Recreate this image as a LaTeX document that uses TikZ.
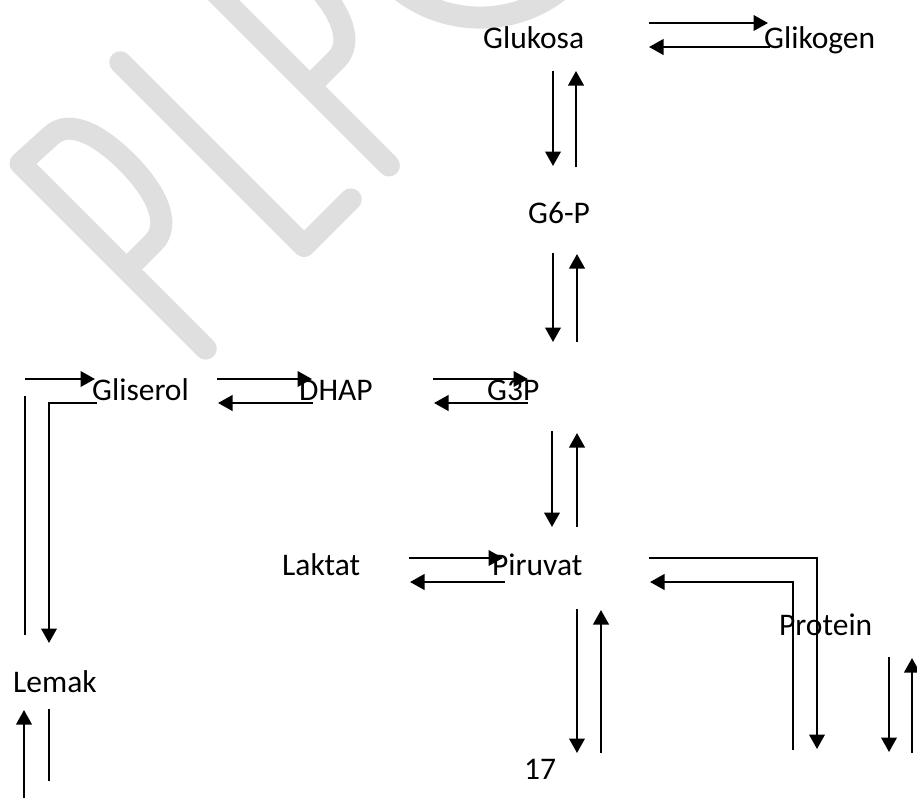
\documentclass[tikz,border=0pt]{standalone}
\usepackage{fontspec}
\setmainfont{Carlito}
\usetikzlibrary{arrows.meta}
\definecolor{wmgray}{RGB}{223,223,223}
\tikzset{
  lbl/.style={anchor=base west, inner sep=0pt, font=\fontsize{31.5}{37}\selectfont},
  flow/.style={line width=2.3pt, -{Triangle[length=14.5pt,width=15.5pt]}},
  plain/.style={line width=2.3pt},
  wm/.style={draw=wmgray, line width=22pt, line cap=round, line join=round},
}
% one watermark letter P, stem centred at u = #1
\newcommand\wmletterP[1]{%
  \draw[wm] (#1,-392) -- (#1,-130) -- ({#1+40},-132)
    .. controls ({#1+66},-132) and ({#1+76},-165) .. ({#1+76},-205)
    .. controls ({#1+76},-250) and ({#1+62},-280) .. ({#1+38},-280) -- (#1,-280);}
\begin{document}
\begin{tikzpicture}[x=1pt,y=1pt]
\useasboundingbox (0,0) rectangle (917,-798);
\clip (0,0) rectangle (917,-798);
\fill[white] (0,0) rectangle (917,-798);

% diagonal watermark
\begin{scope}[rotate=45]
  \wmletterP{-101}
  \draw[wm] (41,-129) -- (41,-389) -- (107,-389);
  \wmletterP{158}
  \draw[wm] (419,-260) circle[radius=130];
\end{scope}

% metabolites
\node[lbl] (glukosa)  at (483,-48)  {Glukosa};
\node[lbl] (glikogen) at (764,-48)  {Glikogen};
\node[lbl] (g6p)      at (528,-223) {G6-P};
\node[lbl] (gliserol) at (92,-400)  {Gliserol};
\node[lbl] (dhap)     at (299,-400) {DHAP};
\node[lbl] (g3p)      at (487,-400) {G3P};
\node[lbl] (laktat)   at (282,-575) {Laktat};
\node[lbl] (piruvat)  at (492,-575) {Piruvat};
\node[lbl] (protein)  at (779,-635) {Protein};
\node[lbl] (lemak)    at (13,-692)  {Lemak};
\node[lbl] (page)     at (524,-779) {17};

% arrow end points
\coordinate (gg1s) at (649,-23);  \coordinate (gg1e) at (768,-23);
\coordinate (gg2s) at (770,-47);  \coordinate (gg2e) at (649,-47);
\coordinate (v1a) at (553,-71);   \coordinate (v1b) at (553,-166);
\coordinate (v1c) at (576,-167);  \coordinate (v1d) at (576,-71);
\coordinate (v2a) at (553,-253);  \coordinate (v2b) at (553,-342);
\coordinate (v2c) at (577,-342);  \coordinate (v2d) at (577,-254);
\coordinate (v3a) at (552,-431);  \coordinate (v3b) at (552,-527);
\coordinate (v3c) at (577,-527);  \coordinate (v3d) at (577,-433);
\coordinate (v4a) at (577,-609);  \coordinate (v4b) at (577,-753);
\coordinate (v4c) at (601,-753);  \coordinate (v4d) at (601,-610);
\coordinate (v5a) at (889,-657);  \coordinate (v5b) at (889,-752);
\coordinate (v5c) at (912,-753);  \coordinate (v5d) at (912,-658);
\coordinate (v6a) at (24,-798);   \coordinate (v6b) at (24,-710);
\coordinate (v6c) at (49,-709);   \coordinate (v6d) at (49,-781);
\coordinate (gl0s) at (25,-379);  \coordinate (gl0e) at (95,-379);
\coordinate (gl1s) at (97,-403);  \coordinate (gl1k) at (49,-403);
\coordinate (gl1e) at (49,-643);
\coordinate (gl2s) at (25,-396);  \coordinate (gl2e) at (25,-635);
\coordinate (gd1s) at (217,-379); \coordinate (gd1e) at (312,-379);
\coordinate (gd2s) at (313,-403); \coordinate (gd2e) at (218,-403);
\coordinate (dg1s) at (433,-379); \coordinate (dg1e) at (528,-379);
\coordinate (dg2s) at (528,-403); \coordinate (dg2e) at (434,-403);
\coordinate (lp1s) at (409,-558); \coordinate (lp1e) at (503,-558);
\coordinate (lp2s) at (505,-582); \coordinate (lp2e) at (410,-582);
\coordinate (pp1s) at (649,-558); \coordinate (pp1k) at (817,-558);
\coordinate (pp1e) at (817,-749);
\coordinate (pp2s) at (793,-750); \coordinate (pp2k) at (793,-582);
\coordinate (pp2e) at (650,-582);

% Glukosa <-> Glikogen
\draw[flow] (gg1s) -- (gg1e);
\draw[flow] (gg2s) -- (gg2e);
% vertical pathway
\draw[flow] (v1a) -- (v1b);  \draw[flow] (v1c) -- (v1d);
\draw[flow] (v2a) -- (v2b);  \draw[flow] (v2c) -- (v2d);
\draw[flow] (v3a) -- (v3b);  \draw[flow] (v3c) -- (v3d);
\draw[flow] (v4a) -- (v4b);  \draw[flow] (v4c) -- (v4d);
\draw[flow] (v5a) -- (v5b);  \draw[flow] (v5c) -- (v5d);
\draw[flow] (v6a) -- (v6b);  \draw[plain] (v6c) -- (v6d);
% Lemak <-> Gliserol
\draw[flow] (gl0s) -- (gl0e);
\draw[flow] (gl1s) -- (gl1k) -- (gl1e);
\draw[plain] (gl2s) -- (gl2e);
% Gliserol <-> DHAP <-> G3P
\draw[flow] (gd1s) -- (gd1e);  \draw[flow] (gd2s) -- (gd2e);
\draw[flow] (dg1s) -- (dg1e);  \draw[flow] (dg2s) -- (dg2e);
% Laktat <-> Piruvat
\draw[flow] (lp1s) -- (lp1e);  \draw[flow] (lp2s) -- (lp2e);
% Piruvat <-> Protein
\draw[flow] (pp1s) -- (pp1k) -- (pp1e);
\draw[flow] (pp2s) -- (pp2k) -- (pp2e);
\end{tikzpicture}
\end{document}
